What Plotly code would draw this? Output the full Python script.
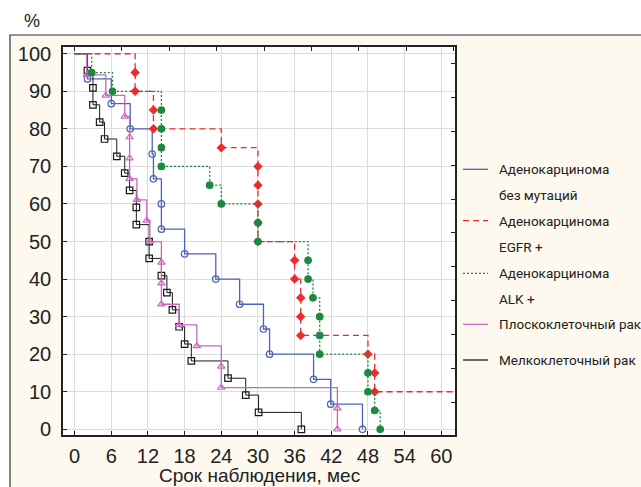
import plotly.graph_objects as go

# ---------------- data ----------------
x_tick_vals = [0, 6, 12, 18, 24, 30, 36, 42, 48, 54, 60]
y_tick_vals = [0, 10, 20, 30, 40, 50, 60, 70, 80, 90, 100]
x_title = "Срок наблюдения, мес"
y_title = "%"

legend_texts = [
    ["Аденокарцинома", "без мутаций"],
    ["Аденокарцинома", "EGFR +"],
    ["Аденокарцинома", "ALK +"],
    ["Плоскоклеточный рак"],
    ["Мелкоклеточный рак"],
]

# Adenocarcinoma without mutations (event times, survival after event, %)
adeno_wt_time = [2.1, 6.0, 9.1, 12.7, 12.9, 14.2, 14.2, 18.0, 23.1, 27.0, 30.9, 31.9, 39.1, 41.9, 47.1]
adeno_wt_surv = [93.3, 86.7, 80.0, 73.3, 66.7, 60.0, 53.3, 46.7, 40.0, 33.3, 26.7, 20.0, 13.3, 6.7, 0.0]

# Adenocarcinoma EGFR+
egfr_time = [9.9, 9.9, 12.9, 12.9, 24.0, 30.0, 30.0, 30.0, 30.0, 30.0, 36.0, 36.0, 37.0, 37.0, 37.0, 48.0, 49.1, 49.1]
egfr_surv = [95, 90, 85, 80, 75, 70, 65, 60, 55, 50, 45, 40, 35, 30, 25, 20, 15, 10]
egfr_last_followup = 64.0

# Adenocarcinoma ALK+
alk_time = [2.8, 6.2, 14.2, 14.2, 14.2, 14.2, 22.1, 24.0, 30.0, 30.0, 38.2, 38.2, 39.0, 40.1, 40.1, 40.1, 48.0, 48.0, 49.1, 50.0]
alk_surv = [95, 90, 85, 80, 75, 70, 65, 60, 55, 50, 45, 40, 35, 30, 25, 20, 15, 10, 5, 0]

# Squamous cell carcinoma
squam_time = [2.0, 5.1, 8.2, 9.0, 9.0, 9.0, 10.2, 11.8, 12.3, 14.2, 14.2, 14.2, 17.1, 20.0, 24.0, 24.0, 43.0, 43.0]
squam_surv = [94.4, 88.9, 83.3, 77.8, 72.2, 66.7, 61.1, 55.6, 50.0, 44.4, 38.9, 33.3, 27.8, 22.2, 16.7, 11.1, 5.6, 0.0]

# Small cell carcinoma
sclc_time = [2.1, 3.0, 3.0, 4.1, 4.9, 6.9, 8.2, 9.0, 10.1, 10.1, 12.2, 12.2, 14.2, 15.1, 16.0, 17.1, 18.0, 19.1, 25.1, 28.0, 30.1, 37.1]
sclc_surv = [95.5, 90.9, 86.4, 81.8, 77.3, 72.7, 68.2, 63.6, 59.1, 54.5, 50.0, 45.5, 40.9, 36.4, 31.8, 27.3, 22.7, 18.2, 13.6, 9.1, 4.5, 0.0]

# secondary (top / right) frame tick positions, in axis units
top_tick_vals = [0, 7.75, 15.5, 23.25, 31.0, 38.75, 46.5, 54.25, 62.0]
right_tick_vals = [97.4, 88.4, 79.4, 70.3, 61.3, 52.3, 43.3, 34.2, 25.2, 16.2, 7.2]

# ---------------- styles ----------------
series = [
    dict(t=adeno_wt_time, s=adeno_wt_surv, end=None, color="#4d63b6", dash="solid",
         symbol="circle-open", msize=6.5, lw=1.3),
    dict(t=sclc_time, s=sclc_surv, end=None, color="#1a1a1a", dash="solid",
         symbol="square-open", msize=6.5, lw=1.0),
    dict(t=squam_time, s=squam_surv, end=None, color="#c967bd", dash="solid",
         symbol="triangle-up-open", msize=6.5, lw=1.3),
    dict(t=egfr_time, s=egfr_surv, end=egfr_last_followup, color="#ef2a2e", dash="6px,4px",
         symbol="diamond", msize=6, lw=1.3),
    dict(t=alk_time, s=alk_surv, end=None, color="#1b8a3e", dash="2px,2px",
         symbol="circle", msize=6.5, lw=1.3),
]

W, H = 641, 487
L, R, T, B = 63, 455, 47, 435   # plot area in pixels
x_range = [-1.9, 62.24]
y_range = [-1.52, 101.8]


def px_x(p):
    return (p - L) / (R - L)


def px_y(p):
    return (B - p) / (B - T)


fig = go.Figure()

for sd in series:
    xs = [0] + list(sd["t"])
    ys = [100] + list(sd["s"])
    if sd["end"] is not None:
        xs.append(sd["end"])
        ys.append(sd["s"][-1])
    fig.add_trace(go.Scatter(x=xs, y=ys, mode="lines", line=dict(color=sd["color"], width=sd["lw"],
                             dash=sd["dash"], shape="hv"), showlegend=False, hoverinfo="skip"))
    fig.add_trace(go.Scatter(x=sd["t"], y=sd["s"], mode="markers",
                             marker=dict(symbol=sd["symbol"], size=sd["msize"], color=sd["color"],
                                         line=dict(color=sd["color"], width=1.2)),
                             showlegend=False, cliponaxis=False))

# invisible trace to carry the secondary tick axes
fig.add_trace(go.Scatter(x=[None], y=[None], xaxis="x2", yaxis="y2", showlegend=False, hoverinfo="skip"))

tick_font = dict(family="Liberation Sans, Arial, sans-serif", size=20, color="#222222")

fig.update_layout(
    width=W, height=H,
    margin=dict(l=L, r=W - R, t=T, b=H - B),
    paper_bgcolor="white",
    plot_bgcolor="white",
    showlegend=False,
    xaxis=dict(range=x_range, tickvals=x_tick_vals, ticks="inside", ticklen=4, tickcolor="#222",
               showgrid=True, gridcolor="#dcdcdc", gridwidth=1, zeroline=False,
               showline=True, linecolor="#222", linewidth=1.6, mirror=True,
               tickfont=tick_font, ticklabelstandoff=2),
    yaxis=dict(range=y_range, tickvals=y_tick_vals, ticks="inside", ticklen=4, tickcolor="#222",
               showgrid=True, gridcolor="#dcdcdc", gridwidth=1, zeroline=False,
               showline=True, linecolor="#222", linewidth=1.6, mirror=True,
               tickfont=tick_font, ticklabelstandoff=6),
    xaxis2=dict(overlaying="x", side="top", anchor="y2", range=x_range, tickvals=top_tick_vals,
                ticks="inside", ticklen=4, tickcolor="#222", showticklabels=False,
                showgrid=False, zeroline=False, showline=False),
    yaxis2=dict(overlaying="y", side="right", anchor="x2", range=y_range, tickvals=right_tick_vals,
                ticks="inside", ticklen=4, tickcolor="#222", showticklabels=False,
                showgrid=False, zeroline=False, showline=False),
)

shapes = [
    # cream outer frame
    dict(type="rect", xref="paper", yref="paper", x0=px_x(10), x1=px_x(W + 50), y0=px_y(H + 50), y1=px_y(35),
         fillcolor="#fdf9ef", line=dict(color="#333333", width=1.2), layer="below"),
    # white plotting area
    dict(type="rect", xref="paper", yref="paper", x0=0, x1=1, y0=0, y1=1,
         fillcolor="white", line=dict(width=0), layer="below"),
]

annotations = [
    dict(text=y_title, xref="paper", yref="paper", x=px_x(32), y=px_y(21), showarrow=False,
         xanchor="center", yanchor="middle", font=dict(family="Liberation Sans, Arial", size=18, color="#222")),
    dict(text=x_title, xref="paper", yref="paper", x=px_x(259), y=px_y(475), showarrow=False,
         xanchor="center", yanchor="middle", font=dict(family="Liberation Sans, Arial", size=19, color="#222")),
]

legend_line_y = [169.3, 220.7, 273.3, 324.3, 360.0]
legend_order = [0, 3, 4, 2, 1]  # index into series list for each legend entry
legend_font = dict(family="Roboto, Liberation Sans, sans-serif", size=13.5, color="#222222")
for i, (ly, texts) in enumerate(zip(legend_line_y, legend_texts)):
    sd = series[legend_order[i]]
    shapes.append(dict(type="line", xref="paper", yref="paper", x0=px_x(463), x1=px_x(488),
                       y0=px_y(ly), y1=px_y(ly),
                       line=dict(color=sd["color"], width=1.3, dash=sd["dash"])))
    for j, txt in enumerate(texts):
        annotations.append(dict(text=txt, xref="paper", yref="paper", x=px_x(497), y=px_y(ly + 26 * j),
                                showarrow=False, xanchor="left", yanchor="middle", font=legend_font))

fig.update_layout(shapes=shapes, annotations=annotations)

fig.write_html("out.html")
